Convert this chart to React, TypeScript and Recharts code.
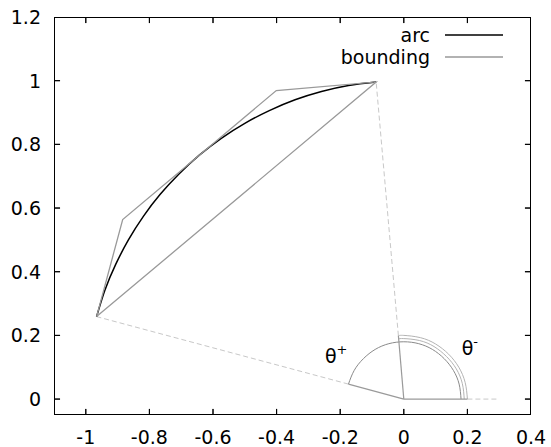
import { ComposedChart, Line, XAxis, YAxis, Legend, ReferenceDot } from "recharts";

// ticks
const xTicks = [-1, -0.8, -0.6, -0.4, -0.2, 0, 0.2, 0.4];
const yTicks = [0, 0.2, 0.4, 0.6, 0.8, 1, 1.2];
const xDomain = [-1.1, 0.4];
const yDomain = [-0.05, 1.2];

// unit-circle arc, 95deg -> 165deg
const arcPoints = [
  { x: -0.087, y: 0.996 },
  { x: -0.174, y: 0.985 },
  { x: -0.259, y: 0.966 },
  { x: -0.342, y: 0.94 },
  { x: -0.423, y: 0.906 },
  { x: -0.5, y: 0.866 },
  { x: -0.574, y: 0.819 },
  { x: -0.643, y: 0.766 },
  { x: -0.707, y: 0.707 },
  { x: -0.766, y: 0.643 },
  { x: -0.819, y: 0.574 },
  { x: -0.866, y: 0.5 },
  { x: -0.906, y: 0.423 },
  { x: -0.94, y: 0.342 },
  { x: -0.966, y: 0.259 },
];

// bounding polygon (closed)
const boundingPoints = [
  { x: -0.966, y: 0.259 },
  { x: -0.884, y: 0.564 },
  { x: -0.401, y: 0.969 },
  { x: -0.087, y: 0.996 },
  { x: -0.966, y: 0.259 },
];

// rays from origin
const raySolidPlus = [
  { x: 0, y: 0 },
  { x: -0.174, y: 0.047 },
];
const rayDashPlus = [
  { x: -0.174, y: 0.047 },
  { x: -0.966, y: 0.259 },
];
const raySolidMinus = [
  { x: 0, y: 0 },
  { x: -0.017, y: 0.199 },
];
const rayDashMinus = [
  { x: -0.017, y: 0.199 },
  { x: -0.087, y: 0.996 },
];
const baseSolid = [
  { x: 0, y: 0 },
  { x: 0.2, y: 0 },
];
const baseDash = [
  { x: 0.2, y: 0 },
  { x: 0.3, y: 0 },
];

// theta+ arc, r = 0.18, 0 -> 165deg
const thetaPlusArc = [
  { x: 0.18, y: 0 },
  { x: 0.174, y: 0.047 },
  { x: 0.156, y: 0.09 },
  { x: 0.127, y: 0.127 },
  { x: 0.09, y: 0.156 },
  { x: 0.047, y: 0.174 },
  { x: 0, y: 0.18 },
  { x: -0.047, y: 0.174 },
  { x: -0.09, y: 0.156 },
  { x: -0.127, y: 0.127 },
  { x: -0.156, y: 0.09 },
  { x: -0.174, y: 0.047 },
];

// theta- double arc, 0 -> 95deg
const thetaMinusOuter = [
  { x: 0.2, y: 0 },
  { x: 0.193, y: 0.052 },
  { x: 0.173, y: 0.1 },
  { x: 0.141, y: 0.141 },
  { x: 0.1, y: 0.173 },
  { x: 0.052, y: 0.193 },
  { x: 0, y: 0.2 },
  { x: -0.017, y: 0.199 },
];
const thetaMinusInner = [
  { x: 0.19, y: 0 },
  { x: 0.184, y: 0.049 },
  { x: 0.165, y: 0.095 },
  { x: 0.134, y: 0.134 },
  { x: 0.095, y: 0.165 },
  { x: 0.049, y: 0.184 },
  { x: 0, y: 0.19 },
  { x: -0.017, y: 0.189 },
];

const FONT = "'DejaVu Sans', sans-serif";
const FS = 19;
// inward tick length in data units (~6px)
const TICK_X = 0.019;
const TICK_Y = 0.019;

// chart layout
const W = 551;
const H = 447;
const MARGIN = { top: 17, right: 20, bottom: 0, left: 0 };
const Y_AXIS_W = 54;
const X_AXIS_H = 32;
const plot = {
  left: MARGIN.left + Y_AXIS_W,
  top: MARGIN.top,
  right: W - MARGIN.right,
  bottom: H - MARGIN.bottom - X_AXIS_H,
};

// inward tick spikes, built from the tick lists
const [X0, X1] = xDomain;
const [Y0, Y1] = yDomain;
const spikes = (list: number[], at: (t: number, d: number) => { x: number; y: number }, d: number) =>
  list.flatMap((t) => [at(t, 0), at(t, d), at(t, 0)]);
const bottomTicks = spikes(xTicks, (t, d) => ({ x: t, y: Y0 + d }), TICK_Y);
const topTicks = spikes(xTicks, (t, d) => ({ x: t, y: Y1 - d }), TICK_Y);
const leftTicks = spikes(yTicks, (t, d) => ({ x: X0 + d, y: t }), TICK_X);
const rightTicks = spikes(yTicks, (t, d) => ({ x: X1 - d, y: t }), TICK_X);

const BottomLabel = ({ x, y, payload }: any) => (
  <text x={x} y={y + 29} textAnchor="middle" fontFamily={FONT} fontSize={FS} fill="#000">
    {payload.value}
  </text>
);

const LeftLabel = ({ x, y, payload }: any) => (
  <text x={x - 13} y={y + 7} textAnchor="end" fontFamily={FONT} fontSize={FS} fill="#000">
    {payload.value}
  </text>
);

const ThetaLabel = (sign: string) => (props: any) => (
  <text x={props.cx} y={props.cy} fontFamily={FONT} fontSize={FS} fill="#000">
    θ
    <tspan dy={-9} fontSize={13}>
      {sign}
    </tspan>
  </text>
);

const LegendBox = ({ payload }: any) => {
  const rows = (payload || []).filter((e: any) => e.type !== "none");
  return (
    <svg width={190} height={50}>
      {rows.map((entry: any, i: number) => (
        <g key={entry.value}>
          <text
            x={100}
            y={11 + i * 22 + 7}
            textAnchor="end"
            fontFamily={FONT}
            fontSize={FS}
            fill="#000"
          >
            {entry.value}
          </text>
          <line x1={115} x2={173} y1={11 + i * 22} y2={11 + i * 22} stroke={entry.color} strokeWidth={1.3} />
        </g>
      ))}
    </svg>
  );
};

const dashed = { stroke: "#c8c8c8", strokeWidth: 1, strokeDasharray: "5 3" };
const hidden = { dot: false, activeDot: false, legendType: "none" as const, isAnimationActive: false };

export default function App() {
  return (
    <div style={{ position: "absolute", left: 0, top: 0, width: W, height: H, background: "#fff" }}>
      <ComposedChart width={W} height={H} margin={MARGIN}>
        <XAxis
          type="number"
          dataKey="x"
          domain={xDomain}
          allowDataOverflow
          ticks={xTicks}
          interval={0}
          height={X_AXIS_H}
          tickSize={0}
          tickMargin={0}
          tickLine={false}
          axisLine={false}
          tick={<BottomLabel />}
        />
        <YAxis
          type="number"
          domain={yDomain}
          allowDataOverflow
          ticks={yTicks}
          interval={0}
          width={Y_AXIS_W}
          tickSize={0}
          tickMargin={0}
          tickLine={false}
          axisLine={false}
          tick={<LeftLabel />}
        />
        <Legend
          layout="horizontal"
          verticalAlign="middle"
          align="center"
          wrapperStyle={{ top: 24, left: 330, width: 190, height: 50 }}
          content={<LegendBox />}
        />

        <Line data={rayDashPlus} dataKey="y" type="linear" {...hidden} {...dashed} />
        <Line data={rayDashMinus} dataKey="y" type="linear" {...hidden} {...dashed} />
        <Line data={baseDash} dataKey="y" type="linear" {...hidden} {...dashed} />

        <Line data={thetaMinusOuter} dataKey="y" type="natural" {...hidden} stroke="#b4b4b4" strokeWidth={1} />
        <Line data={thetaMinusInner} dataKey="y" type="natural" {...hidden} stroke="#b4b4b4" strokeWidth={1} />
        <Line data={thetaPlusArc} dataKey="y" type="natural" {...hidden} stroke="#8a8a8a" strokeWidth={1} />

        <Line data={raySolidPlus} dataKey="y" type="linear" {...hidden} stroke="#9a9a9a" strokeWidth={1.2} />
        <Line data={raySolidMinus} dataKey="y" type="linear" {...hidden} stroke="#9a9a9a" strokeWidth={1.2} />
        <Line data={baseSolid} dataKey="y" type="linear" {...hidden} stroke="#9a9a9a" strokeWidth={1.2} />

        <Line name="arc" data={arcPoints} dataKey="y" type="natural" dot={false} isAnimationActive={false} stroke="#000" strokeWidth={1.5} />
        <Line name="bounding" data={boundingPoints} dataKey="y" type="linear" dot={false} isAnimationActive={false} stroke="#999" strokeWidth={1.3} />

        {/* inward ticks */}
        <Line data={bottomTicks} dataKey="y" type="linear" {...hidden} stroke="#000" strokeWidth={1} />
        <Line data={topTicks} dataKey="y" type="linear" {...hidden} stroke="#000" strokeWidth={1} />
        <Line data={leftTicks} dataKey="y" type="linear" {...hidden} stroke="#000" strokeWidth={1} />
        <Line data={rightTicks} dataKey="y" type="linear" {...hidden} stroke="#000" strokeWidth={1} />

        <ReferenceDot x={-0.248} y={0.113} r={0} shape={ThetaLabel("+")} />
        <ReferenceDot x={0.182} y={0.138} r={0} shape={ThetaLabel("-")} />
      </ComposedChart>

      {/* plot border, drawn over the chart so it is not clipped */}
      <svg
        width={W}
        height={H}
        style={{ position: "absolute", left: 0, top: 0, pointerEvents: "none" }}
      >
        <rect
          x={plot.left + 0.5}
          y={plot.top + 0.5}
          width={plot.right - plot.left - 1}
          height={plot.bottom - plot.top - 1}
          fill="none"
          stroke="#000"
          strokeWidth={1}
        />
      </svg>
    </div>
  );
}
